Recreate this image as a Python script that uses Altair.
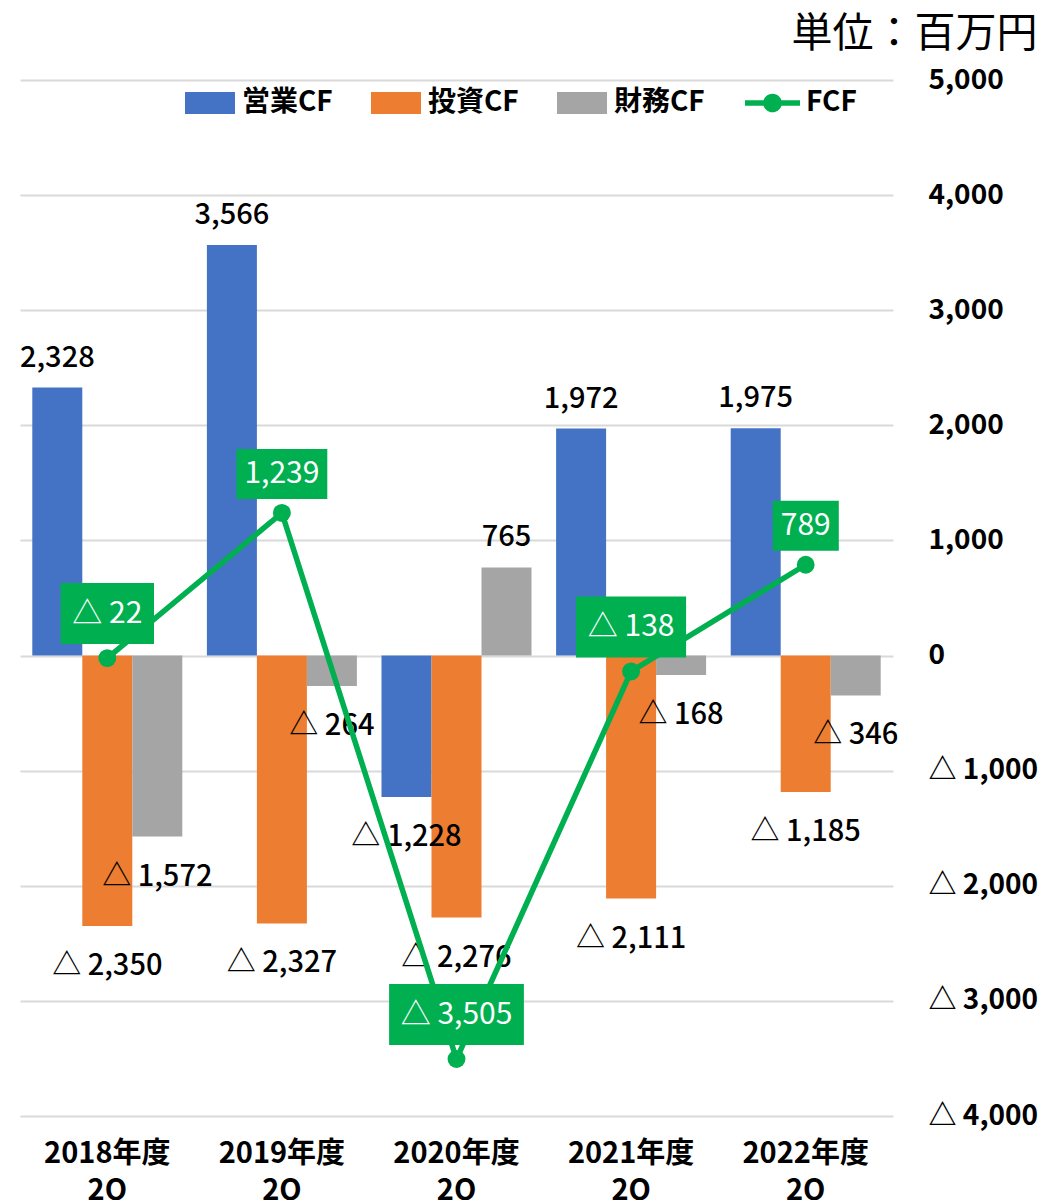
import altair as alt
import pandas as pd

# ---- data ----
years = ["2018年度", "2019年度", "2020年度", "2021年度", "2022年度"]
quarter = "2Q"
series = ["営業CF", "投資CF", "財務CF"]
operating_cf = [2328, 3566, -1228, 1972, 1975]
investing_cf = [-2350, -2327, -2276, -2111, -1185]
financing_cf = [-1572, -264, 765, -168, -346]
fcf = [-22, 1239, -3505, -138, 789]
y_ticks = [-4000, -3000, -2000, -1000, 0, 1000, 2000, 3000, 4000, 5000]

bar_colors = ["#4472C4", "#ED7D31", "#A5A5A5"]
fcf_color = "#00B050"
FONT = "Noto Sans CJK JP"

cats = [f"{y} {quarter}" for y in years]


def fmt(v):
    return ("△ " if v < 0 else "") + f"{abs(v):,}"


rows = []
for name, vals in zip(series, [operating_cf, investing_cf, financing_cf]):
    for c, v in zip(cats, vals):
        rows.append({"cat": c, "series": name, "value": v, "label": fmt(v)})
bars_df = pd.DataFrame(rows)


def box_path(label):
    # approximate label box size from the text
    w = 0.0
    for ch in label:
        if ch == "△":
            w += 30
        elif ch == " ":
            w += 14
        elif ch == ",":
            w += 8
        else:
            w += 16.7
    w += 16
    h = 61 if label.startswith("△") else 50
    return f"M{-w/2:.1f},{-(14+h):.1f}h{w:.1f}v{h:.1f}h{-w:.1f}Z"


fcf_labels = [fmt(v) for v in fcf]
fcf_df = pd.DataFrame({"cat": cats, "fcf": fcf, "label": fcf_labels, "name": ["FCF"] * len(cats)})
box_paths = [box_path(l) for l in fcf_labels]

x_enc = alt.X(
    "cat:N",
    sort=cats,
    scale=alt.Scale(paddingInner=0, paddingOuter=0),
    axis=alt.Axis(
        title=None, labelAngle=0, ticks=False, domain=False, grid=False,
        labelExpr="split(datum.label, ' ')", labelFontSize=29, labelFontWeight="bold",
        labelColor="black", labelLineHeight=37, labelPadding=23, labelBaseline="top",
    ),
)
y_scale = alt.Scale(domain=[-4000, 5000], nice=False, zero=False)
y_axis = alt.Axis(
    title=None, orient="right", values=y_ticks, ticks=False, domain=False, grid=True,
    gridColor="#d9d9d9", gridWidth=2,
    labelExpr="datum.value < 0 ? '△ ' + format(-datum.value, ',') : format(datum.value, ',')",
    labelAlign="left", labelPadding=35, labelFontSize=28, labelFontWeight="bold",
    labelColor="black", labelBaseline="middle", labelFlush=False,
)
xoff = alt.XOffset("series:N", sort=series,
                   scale=alt.Scale(domain=series, paddingOuter=0.246, paddingInner=0))

bars = alt.Chart(bars_df).mark_bar().encode(
    x=x_enc,
    xOffset=xoff,
    y=alt.Y("value:Q", scale=y_scale, axis=y_axis),
    color=alt.Color(
        "series:N", sort=series,
        scale=alt.Scale(domain=series, range=bar_colors),
        legend=alt.Legend(
            title=None, orient="none", legendX=165, legendY=-2, direction="horizontal",
            symbolType="M-1,-0.44H1V0.44H-1Z", symbolSize=2500, symbolStrokeWidth=0,
            labelFontSize=28, labelFontWeight="bold", labelColor="black", labelFont=FONT,
            labelOffset=7, columnPadding=38, padding=0,
        ),
    ),
)

lab_base = alt.Chart(bars_df).encode(
    x=alt.X("cat:N", sort=cats),
    xOffset=xoff,
    y=alt.Y("value:Q", scale=y_scale),
    text="label:N",
)
lab_pos = lab_base.transform_filter("datum.value >= 0").mark_text(
    dy=-30, baseline="middle", fontSize=29, fontWeight=500, font=FONT, color="black")
lab_neg = lab_base.transform_filter("datum.value < 0").mark_text(
    dy=40, baseline="middle", fontSize=29, fontWeight=500, font=FONT, color="black")

fbase = alt.Chart(fcf_df).encode(
    x=alt.X("cat:N", sort=cats),
    y=alt.Y("fcf:Q", scale=y_scale),
)
line = fbase.mark_line(strokeWidth=5.5, color=fcf_color)
points = fbase.mark_point(filled=True, shape="circle", size=320, opacity=1, strokeWidth=0).encode(
    fill=alt.Fill(
        "name:N",
        scale=alt.Scale(domain=["FCF"], range=[fcf_color]),
        legend=alt.Legend(
            title=None, orient="none", legendX=725, legendY=-4.5,
            symbolType="M-1,-0.1H1V0.1H-1Z M0.34,0A0.34,0.34 0 1,1 -0.34,0A0.34,0.34 0 1,1 0.34,0Z",
            symbolSize=3025, symbolStrokeWidth=0,
            labelFontSize=28, labelFontWeight="bold", labelColor="black", labelFont=FONT,
            labelOffset=6, padding=0,
        ),
    )
)
boxes = fbase.mark_point(filled=True, size=4, opacity=1, strokeWidth=0, color=fcf_color).encode(
    shape=alt.Shape("label:N", scale=alt.Scale(domain=fcf_labels, range=box_paths), legend=None)
)
box_txt_neg = fbase.transform_filter("datum.fcf < 0").mark_text(
    dy=-44.5, baseline="middle", fontSize=30, font=FONT, color="white").encode(text="label:N")
box_txt_pos = fbase.transform_filter("datum.fcf >= 0").mark_text(
    dy=-39, baseline="middle", fontSize=30, font=FONT, color="white").encode(text="label:N")

chart = alt.layer(
    bars, lab_pos, lab_neg, line, points, boxes, box_txt_neg, box_txt_pos
).resolve_scale(
    color="independent", fill="independent"
).properties(
    width=873,
    height=1036,
    title=alt.TitleParams(
        "単位：百万円", anchor="end", frame="bounds", fontSize=41, fontWeight="normal",
        font=FONT, color="black", offset=10,
    ),
    autosize=alt.AutoSizeParams(type="none"),
    padding={"left": 20, "top": 80, "right": 158, "bottom": 84},
).configure(font=FONT, background="white").configure_view(stroke=None)

chart.save("out.html", embed_options={"renderer": "svg", "actions": False})
